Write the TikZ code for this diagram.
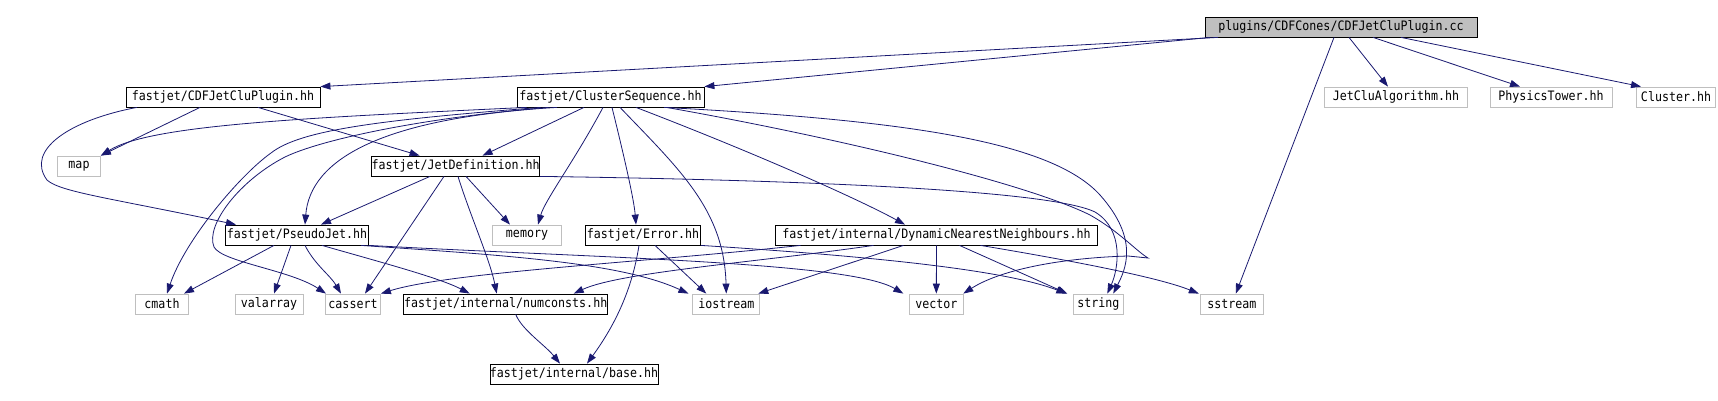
\documentclass[tikz,border=0pt]{standalone}
\usepackage{fontspec}
\setmonofont[FakeStretch=0.895]{DejaVu Sans Mono}
\usepackage{tikz}
\usetikzlibrary{arrows.meta}
\definecolor{incblue}{HTML}{191970}
\definecolor{sysgray}{HTML}{BFBFBF}
\tikzset{
  hdr/.style={draw=black, line width=0.8pt, inner sep=0pt, minimum height=20pt,
    font=\fontsize{13}{14}\selectfont\ttfamily},
  syshdr/.style={hdr, draw=sysgray},
  roothdr/.style={hdr, fill=sysgray},
  inc/.style={color=incblue, line width=0.8pt, -{Triangle[length=10pt,width=7pt]}}
}

\begin{document}
\begin{tikzpicture}[x=1pt, y=-1pt]
    \useasboundingbox (0,0) rectangle (1718,401);
        \node[roothdr, minimum width=272pt] (root) at (1341,27) {plugins/CDFCones/CDFJetCluPlugin.cc};
        \node[hdr, minimum width=194pt] (cdfplug) at (223,97) {fastjet/CDFJetCluPlugin.hh};
        \node[hdr, minimum width=187pt] (clseq) at (610.5,97) {fastjet/ClusterSequence.hh};
        \node[syshdr, minimum width=143pt] (jetclualg) at (1396,97) {JetCluAlgorithm.hh};
        \node[syshdr, minimum width=122pt] (phystower) at (1551,97) {PhysicsTower.hh};
        \node[syshdr, minimum width=79pt] (cluster) at (1676,97) {Cluster.hh};
        \node[syshdr, minimum width=43pt] (map) at (79,166) {map};
        \node[hdr, minimum width=164pt] (jetdef) at (455.6,166) {fastjet/JetDefinition.hh};
        \node[hdr, minimum width=143pt] (pseudojet) at (297,235) {fastjet/PseudoJet.hh};
        \node[syshdr, minimum width=69pt] (memory) at (527,235) {memory};
        \node[hdr, minimum width=115pt] (error) at (643,235) {fastjet/Error.hh};
        \node[hdr, minimum width=322pt] (dnn) at (936.5,235) {fastjet/internal/DynamicNearestNeighbours.hh};
        \node[syshdr, minimum width=53pt] (cmath) at (162,304) {cmath};
        \node[syshdr, minimum width=68pt] (valarray) at (269,304) {valarray};
        \node[syshdr, minimum width=55pt] (cassert) at (353,304) {cassert};
        \node[hdr, minimum width=204pt] (numconsts) at (505.7,304) {fastjet/internal/numconsts.hh};
        \node[syshdr, minimum width=67pt] (iostream) at (726.3,304) {iostream};
        \node[syshdr, minimum width=54pt] (vector) at (936.3,304) {vector};
        \node[syshdr, minimum width=50pt] (string) at (1098.3,304) {string};
        \node[syshdr, minimum width=63pt] (sstream) at (1231.8,304) {sstream};
        \node[hdr, minimum width=163pt] (base) at (574,374) {fastjet/internal/base.hh};

        \draw[inc] ([xshift=-123pt]root.south) -- (cdfplug.north east);
        \draw[inc] ([xshift=-131pt]root.south) -- (clseq.north east);
        \draw[inc] ([xshift=-7pt]root.south) -- ([xshift=4pt]sstream.north);
        \draw[inc] ([xshift=8pt]root.south) -- ([xshift=-8pt]jetclualg.north);
        \draw[inc] ([xshift=32pt]root.south) -- ([xshift=-31pt]phystower.north);
        \draw[inc] ([xshift=60pt]root.south) -- ([xshift=-35pt]cluster.north);

        \draw[inc] ([xshift=-23pt]cdfplug.south) -- (map.north east);
        \draw[inc] ([xshift=35pt]cdfplug.south) -- ([xshift=-36pt]jetdef.north);
        \draw[inc] ([xshift=-86pt]cdfplug.south) .. controls (70,120) and (25,150) .. (47,180)
            .. controls (60,192) and (110,198) .. ([xshift=-61pt]pseudojet.north);

        \draw[inc] ([xshift=-84pt]clseq.south) .. controls (300,118) and (150,125) .. (map.north east);
        \draw[inc] ([xshift=-70pt]clseq.south) .. controls (380,120) and (300,130) .. (271,153)
            .. controls (240,175) and (185,240) .. ([xshift=5pt]cmath.north);
        \draw[inc] ([xshift=-62pt]clseq.south) .. controls (420,118) and (320,140) .. (285,157)
            .. controls (240,180) and (205,225) .. (214,247)
            .. controls (222,262) and (290,270) .. ([xshift=-27pt]cassert.north);
        \draw[inc] ([xshift=-53.5pt]clseq.south) .. controls (380,118) and (310,160) .. ([xshift=8pt]pseudojet.north);
        \draw[inc] ([xshift=-26.5pt]clseq.south) -- ([xshift=27pt]jetdef.north);
        \draw[inc] ([xshift=-7.5pt]clseq.south) .. controls (575,160) and (545,200) .. ([xshift=11pt]memory.north);
        \draw[inc] ([xshift=1.5pt]clseq.south) .. controls (625,160) and (634,200) .. ([xshift=-7pt]error.north);
        \draw[inc] ([xshift=9.5pt]clseq.south) .. controls (680,170) and (724,210) .. (iostream.north);
        \draw[inc] ([xshift=25.5pt]clseq.south) .. controls (760,155) and (860,200) .. ([xshift=-31.5pt]dnn.north);
        \draw[inc] ([xshift=53.5pt]clseq.south) .. controls (900,120) and (1050,140) .. (1100,195)
            .. controls (1140,240) and (1125,270) .. ([xshift=15pt]string.north);
        \draw[inc] ([xshift=56pt]clseq.south) .. controls (850,140) and (1030,185) .. (1090,215)
            .. controls (1120,232) and (1135,250) .. (1148,258) -- (1128,256)
            .. controls (1060,258) and (1000,270) .. ([xshift=27pt]vector.north);

        \draw[inc] ([xshift=-25.6pt]jetdef.south) -- ([xshift=24pt]pseudojet.north);
        \draw[inc] ([xshift=-11.6pt]jetdef.south) -- ([xshift=12pt]cassert.north);
        \draw[inc] ([xshift=2.4pt]jetdef.south) .. controls (470,215) and (490,260) .. ([xshift=-9pt]numconsts.north);
        \draw[inc] ([xshift=10.4pt]jetdef.south) -- ([xshift=-17pt]memory.north);
        \draw[inc] (jetdef.south east) .. controls (800,180) and (1050,190) .. (1095,212)
            .. controls (1125,230) and (1118,270) .. ([xshift=9pt]string.north);

        \draw[inc] ([xshift=-23pt]pseudojet.south) -- ([xshift=22pt]cmath.north);
        \draw[inc] ([xshift=-6pt]pseudojet.south) -- ([xshift=5pt]valarray.north);
        \draw[inc] ([xshift=8pt]pseudojet.south) .. controls (315,265) and (330,275) .. ([xshift=-12pt]cassert.north);
        \draw[inc] ([xshift=25pt]pseudojet.south) .. controls (380,262) and (440,278) .. ([xshift=-36pt]numconsts.north);
        \draw[inc] ([xshift=-8pt]pseudojet.south east) .. controls (500,255) and (620,262) .. ([xshift=-4pt]iostream.north west);
        \draw[inc] (pseudojet.south east) .. controls (600,258) and (850,262) .. ([xshift=-33pt]vector.north);

        \draw[inc] ([xshift=12pt]error.south) -- ([xshift=-20pt]iostream.north);
        \draw[inc] ([xshift=-4pt]error.south) .. controls (632,290) and (615,325) .. ([xshift=13pt]base.north);
        \draw[inc] (error.south east) .. controls (850,255) and (1000,268) .. ([xshift=-32pt]string.north);

        \draw[inc] ([xshift=10pt]numconsts.south) .. controls (522,330) and (545,345) .. ([xshift=-14pt]base.north);

        \draw[inc] ([xshift=-136pt]dnn.south) .. controls (650,262) and (450,272) .. (cassert.north east);
        \draw[inc] ([xshift=-63pt]dnn.south) .. controls (760,262) and (620,272) .. ([xshift=68pt]numconsts.north);
        \draw[inc] ([xshift=-33pt]dnn.south) -- ([xshift=32pt]iostream.north);
        \draw[inc] (dnn.south) -- (vector.north);
        \draw[inc] ([xshift=23pt]dnn.south) -- ([xshift=-31pt]string.north);
        \draw[inc] ([xshift=44pt]dnn.south) .. controls (1080,262) and (1160,278) .. ([xshift=-33pt]sstream.north);
    \end{tikzpicture}
\end{document}
